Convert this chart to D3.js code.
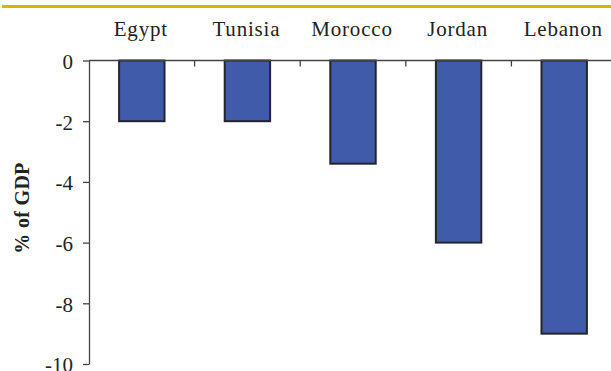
<!DOCTYPE html>
<html>
<head>
<meta charset="utf-8">
<script src="https://cdn.jsdelivr.net/npm/d3@7"></script>
<style>
  html, body { margin: 0; padding: 0; background: #fff; }
  svg { display: block; }
  text { font-family: "Liberation Serif", "Times New Roman", serif; }
</style>
</head>
<body>
<script>
const categories = ["Egypt", "Tunisia", "Morocco", "Jordan", "Lebanon"];
const values = [-2.0, -2.0, -3.4, -6.0, -9.0];
const yTicks = [0, -2, -4, -6, -8, -10];
const yTitle = "% of GDP";

const W = 611, H = 371;
const svg = d3.select("body").append("svg").attr("width", W).attr("height", H);

// gold rule at top
svg.append("rect")
  .attr("x", 2).attr("y", 5).attr("width", W - 2).attr("height", 3)
  .attr("fill", "#DDB30B");

const x = d3.scaleBand().domain(categories).range([89, 617])
  .paddingInner(0.57).paddingOuter(0.285);
const y = d3.scaleLinear().domain([-10, 0]).range([364, 60.5]);

// bars
svg.append("g").selectAll("rect").data(values).join("rect")
  .attr("x", (d, i) => x(categories[i]))
  .attr("y", y(0))
  .attr("width", x.bandwidth())
  .attr("height", d => y(d) - y(0))
  .attr("fill", "#3F5BA9")
  .attr("stroke", "#23242E")
  .attr("stroke-width", 2);

// y axis
const yAxis = d3.axisLeft(y).tickValues(yTicks).tickSize(6).tickSizeOuter(0)
  .tickPadding(10).tickFormat(d => String(d));
const gy = svg.append("g").attr("transform", "translate(89,0)").call(yAxis);
gy.attr("font-family", null);
gy.select(".domain").attr("stroke", "#444").attr("stroke-width", 1.3);
gy.selectAll(".tick line").attr("stroke", "#444").attr("stroke-width", 1.3);
gy.selectAll(".tick text").attr("font-size", 21).attr("fill", "#222")
  .attr("dy", "0.38em")
  .style("font-family", "'Liberation Serif', 'Times New Roman', serif");

// zero (category) axis line
svg.append("line")
  .attr("x1", 89).attr("x2", W).attr("y1", y(0)).attr("y2", y(0))
  .attr("stroke", "#444").attr("stroke-width", 1.3);

// category boundary ticks
const boundaries = d3.range(categories.length + 1).map(i => x.range()[0] + i * x.step());
svg.append("g").selectAll("line").data(boundaries.slice(1)).join("line")
  .attr("x1", d => d).attr("x2", d => d)
  .attr("y1", y(0)).attr("y2", y(0) + 6)
  .attr("stroke", "#444").attr("stroke-width", 1.3);

// category labels above
svg.append("g").selectAll("text").data(categories).join("text")
  .attr("x", d => x(d) + x.bandwidth() / 2 - 1)
  .attr("y", 36)
  .attr("text-anchor", "middle")
  .attr("font-size", 21)
  .attr("letter-spacing", "0.8px")
  .attr("fill", "#222")
  .text(d => d);

// y title
svg.append("text")
  .attr("transform", "translate(29,208) rotate(-90)")
  .attr("text-anchor", "middle")
  .attr("font-size", 20)
  .attr("font-weight", "bold")
  .attr("letter-spacing", "0.3px")
  .attr("fill", "#222")
  .text(yTitle);
</script>
</body>
</html>
